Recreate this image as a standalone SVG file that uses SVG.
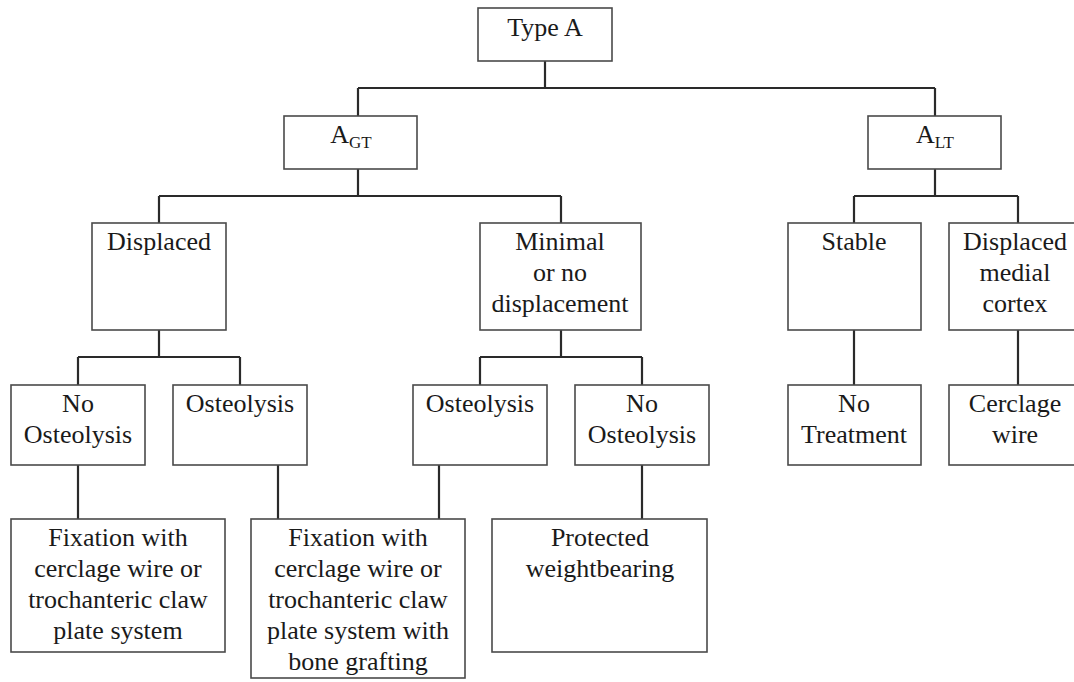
<svg xmlns="http://www.w3.org/2000/svg" width="1074" height="682" viewBox="0 0 1074 682">
<style>
.box{fill:#fff;stroke:#4a4a4a;stroke-width:1.6}
.ln{fill:none;stroke:#2a2a2a;stroke-width:2.2}
text{font-family:"Liberation Serif","Times New Roman",serif;font-size:26px;fill:#1a1a1a;text-anchor:middle}
.sub{font-size:17px}
</style>
<rect width="1074" height="682" fill="#fff"/>
<g id="connectors">
<path class="ln" d="M545 61V88M358 88H935M358 88V117M935 88V117"/>
<path class="ln" d="M358 169V196M159 196H561M159 196V223M561 196V223"/>
<path class="ln" d="M935 169V196M854 196H1018M854 196V223M1018 196V223"/>
<path class="ln" d="M159 330V357M78 357H240M78 357V385M240 357V385"/>
<path class="ln" d="M561 330V357M480 357H642M480 357V385M642 357V385"/>
<path class="ln" d="M854 330V385M1018 330V385"/>
<path class="ln" d="M78 465V519M278 465V519M439 465V519M642 465V519"/>
</g>
<g id="typeA"><rect class="box" x="478" y="8" width="134" height="53"/><text x="545" y="36">Type A</text></g>
<g id="agt"><rect class="box" x="284" y="116" width="133" height="53"/><text x="351" y="143">A<tspan class="sub" dy="5">GT</tspan></text></g>
<g id="alt"><rect class="box" x="868" y="116" width="133" height="53"/><text x="935" y="143">A<tspan class="sub" dy="5">LT</tspan></text></g>
<g id="displaced"><rect class="box" x="92" y="223" width="134" height="107"/><text x="159" y="250">Displaced</text></g>
<g id="minimal"><rect class="box" x="480" y="223" width="161" height="107"/><text x="560" y="250">Minimal</text><text x="560" y="281">or no</text><text x="560" y="312">displacement</text></g>
<g id="stable"><rect class="box" x="788" y="223" width="133" height="107"/><text x="854" y="250">Stable</text></g>
<g id="displacedMedial"><rect class="box" x="949" y="223" width="133" height="107"/><text x="1015" y="250">Displaced</text><text x="1015" y="281">medial</text><text x="1015" y="312">cortex</text></g>
<g id="noOsteo1"><rect class="box" x="11" y="385" width="134" height="80"/><text x="78" y="412">No</text><text x="78" y="443">Osteolysis</text></g>
<g id="osteo1"><rect class="box" x="173" y="385" width="134" height="80"/><text x="240" y="412">Osteolysis</text></g>
<g id="osteo2"><rect class="box" x="413" y="385" width="134" height="80"/><text x="480" y="412">Osteolysis</text></g>
<g id="noOsteo2"><rect class="box" x="575" y="385" width="134" height="80"/><text x="642" y="412">No</text><text x="642" y="443">Osteolysis</text></g>
<g id="noTreatment"><rect class="box" x="788" y="385" width="133" height="80"/><text x="854" y="412">No</text><text x="854" y="443">Treatment</text></g>
<g id="cerclage"><rect class="box" x="949" y="385" width="133" height="80"/><text x="1015" y="412">Cerclage</text><text x="1015" y="443">wire</text></g>
<g id="fix1"><rect class="box" x="11" y="519" width="214" height="133"/><text x="118" y="546">Fixation with</text><text x="118" y="577">cerclage wire or</text><text x="118" y="608">trochanteric claw</text><text x="118" y="639">plate system</text></g>
<g id="fix2"><rect class="box" x="251" y="519" width="214" height="159"/><text x="358" y="546">Fixation with</text><text x="358" y="577">cerclage wire or</text><text x="358" y="608">trochanteric claw</text><text x="358" y="639">plate system with</text><text x="358" y="670">bone grafting</text></g>
<g id="protected"><rect class="box" x="492" y="519" width="215" height="133"/><text x="600" y="546">Protected</text><text x="600" y="577">weightbearing</text></g>
</svg>
